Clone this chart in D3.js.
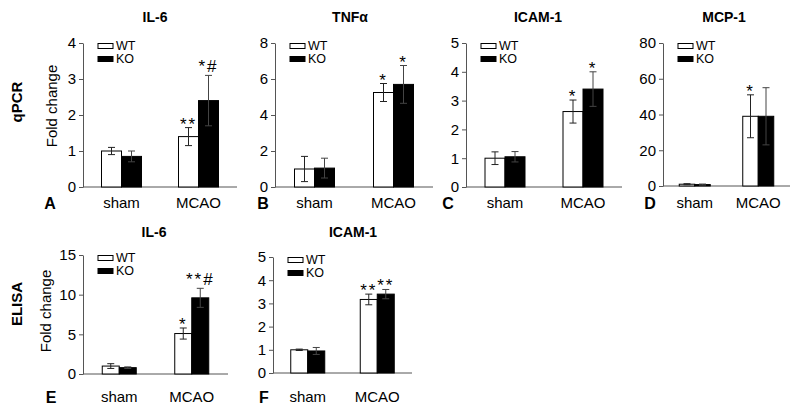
<!DOCTYPE html>
<html><head><meta charset="utf-8">
<script src="https://cdn.jsdelivr.net/npm/d3@7"></script>
<style>
body{margin:0;background:#fff}
text{font-family:"Liberation Sans",Arial,sans-serif;fill:#000}
</style>
</head><body>
<svg id="c" width="800" height="413"></svg>
<script>
// ---------- DATA ----------
const categories = ["sham", "MCAO"];
const series = ["WT", "KO"];
const rowLabels = ["qPCR", "ELISA"];
const yLabel = "Fold change";
const panelLetters = ["A", "B", "C", "D", "E", "F"];
const panelTitles = ["IL-6", "TNFα", "ICAM-1", "MCP-1", "IL-6", "ICAM-1"];

// A: qPCR IL-6
const aWT = [1.0, 1.4],  aWTerr = [0.1, 0.25],  aKO = [0.85, 2.4],  aKOerr = [0.15, 0.7];
const aWTsig = ["", "**"], aKOsig = ["", "*#"];
const aTicks = [0, 1, 2, 3, 4];
// B: qPCR TNFα
const bWT = [1.0, 5.25], bWTerr = [0.7, 0.5],  bKO = [1.05, 5.7], bKOerr = [0.55, 1.05];
const bWTsig = ["", "*"], bKOsig = ["", "*"];
const bTicks = [0, 2, 4, 6, 8];
// C: qPCR ICAM-1
const cWT = [1.0, 2.62], cWTerr = [0.22, 0.4], cKO = [1.05, 3.4], cKOerr = [0.18, 0.6];
const cWTsig = ["", "*"], cKOsig = ["", "*"];
const cTicks = [0, 1, 2, 3, 4, 5];
// D: qPCR MCP-1
const dWT = [1.0, 39],  dWTerr = [0.3, 12],  dKO = [0.8, 39],  dKOerr = [0.3, 16];
const dWTsig = ["", "*"], dKOsig = ["", ""];
const dTicks = [0, 20, 40, 60, 80];
// E: ELISA IL-6
const eWT = [1.0, 5.1], eWTerr = [0.3, 0.7], eKO = [0.8, 9.6], eKOerr = [0.1, 1.2];
const eWTsig = ["", "*"], eKOsig = ["", "**#"];
const eTicks = [0, 5, 10, 15];
// F: ELISA ICAM-1
const fWT = [1.0, 3.17], fWTerr = [0.03, 0.23], fKO = [0.95, 3.4], fKOerr = [0.15, 0.2];
const fWTsig = ["", "**"], fKOsig = ["", "**"];
const fTicks = [0, 1, 2, 3, 4, 5];

// ---------- LAYOUT ----------
const panels = [
  {data:[aWT,aKO], err:[aWTerr,aKOerr], sig:[aWTsig,aKOsig], ticks:aTicks, x0:83,  x1:237, y0:187, y1:43,  bw:20, titleX:155, titleY:22, letterX:50,  labY:208},
  {data:[bWT,bKO], err:[bWTerr,bKOerr], sig:[bWTsig,bKOsig], ticks:bTicks, x0:275, x1:433, y0:187, y1:43,  bw:20, titleX:350, titleY:22, letterX:263, labY:208},
  {data:[cWT,cKO], err:[cWTerr,cKOerr], sig:[cWTsig,cKOsig], ticks:cTicks, x0:466, x1:622, y0:187, y1:43,  bw:20, titleX:538, titleY:22, letterX:448, labY:208},
  {data:[dWT,dKO], err:[dWTerr,dKOerr], sig:[dWTsig,dKOsig], ticks:dTicks, x0:663, x1:790, y0:186, y1:43,  bw:15.5, titleX:724, titleY:22, letterX:650, labY:208},
  {data:[eWT,eKO], err:[eWTerr,eKOerr], sig:[eWTsig,eKOsig], ticks:eTicks, x0:83,  x1:228, y0:374, y1:255, bw:17, titleX:154, titleY:237, letterX:51, labY:402},
  {data:[fWT,fKO], err:[fWTerr,fKOerr], sig:[fWTsig,fKOsig], ticks:fTicks, x0:273, x1:412, y0:373, y1:257, bw:17, titleX:353, titleY:237, letterX:264, labY:402}
];

const svg = d3.select("#c");
const axisColor = "#555";

panels.forEach((p, pi) => {
  const g = svg.append("g");
  const y = d3.scaleLinear().domain([0, d3.max(p.ticks)]).range([p.y0, p.y1]);
  const x = d3.scalePoint().domain(categories).range([p.x0, p.x1]).padding(0.5);
  const xs = d3.scaleBand().domain(series).range([-p.bw, p.bw]);

  // y axis
  const ax = g.append("g").attr("transform", `translate(${p.x0},0)`)
    .call(d3.axisLeft(y).tickValues(p.ticks).tickFormat(d3.format("d"))
      .tickSize(4).tickSizeOuter(0).tickPadding(3));
  ax.select(".domain").attr("stroke", axisColor);
  ax.selectAll(".tick line").attr("stroke", axisColor);
  ax.selectAll(".tick text").attr("font-size", 15)
    .attr("font-family", "Liberation Sans, Arial, sans-serif").attr("fill", "#000");

  // x axis baseline
  g.append("line").attr("x1", p.x0).attr("x2", p.x1).attr("y1", y(0)).attr("y2", y(0))
    .attr("stroke", axisColor);

  // bars
  series.forEach((s, si) => {
    categories.forEach((c, ci) => {
      const v = p.data[si][ci], e = p.err[si][ci];
      const bx = x(c) + xs(s);
      const cx = bx + xs.bandwidth() / 2;
      g.append("rect").attr("x", bx).attr("y", y(v)).attr("width", xs.bandwidth())
        .attr("height", y(0) - y(v))
        .attr("fill", s === "WT" ? "#fff" : "#000").attr("stroke", "#000").attr("stroke-width", 1);
      const col = s === "WT" ? "#222" : "#444";
      g.append("line").attr("x1", cx).attr("x2", cx).attr("y1", y(v - e)).attr("y2", y(v + e)).attr("stroke", col);
      [v - e, v + e].forEach(val => {
        g.append("line").attr("x1", cx - 3.5).attr("x2", cx + 3.5).attr("y1", y(val)).attr("y2", y(val)).attr("stroke", col);
      });
      const sg = p.sig[si][ci];
      if (sg) {
        const off = sg.includes("#") ? -3 : 2;
        g.append("text").attr("x", cx).attr("y", y(v + e) + off).attr("text-anchor", "middle")
          .attr("font-size", 17).attr("letter-spacing", 2).text(sg);
      }
    });
  });

  // category labels
  categories.forEach(c => {
    g.append("text").attr("x", x(c)).attr("y", p.labY).attr("text-anchor", "middle")
      .attr("font-size", 15).text(c);
  });

  // title
  g.append("text").attr("x", p.titleX).attr("y", p.titleY).attr("text-anchor", "middle")
    .attr("font-size", 14).attr("font-weight", "bold").text(panelTitles[pi]);

  // panel letter
  g.append("text").attr("x", p.letterX).attr("y", p.labY + 1).attr("text-anchor", "middle")
    .attr("font-size", 16).attr("font-weight", "bold").text(panelLetters[pi]);

  // legend
  series.forEach((s, si) => {
    const ly = p.y1 + 3 + si * 13;
    g.append("rect").attr("x", p.x0 + 15).attr("y", ly - 2.5).attr("width", 15).attr("height", 5)
      .attr("fill", s === "WT" ? "#fff" : "#000").attr("stroke", "#000");
    g.append("text").attr("x", p.x0 + 33).attr("y", ly).attr("dy", "0.35em")
      .attr("font-size", 12.5).text(s);
  });
});

// row labels
[[17, 102], [17, 304]].forEach((pos, i) => {
  svg.append("text").attr("transform", `translate(${pos[0]},${pos[1]}) rotate(-90)`)
    .attr("text-anchor", "middle").attr("dy", "0.35em")
    .attr("font-size", 15).attr("font-weight", "bold").text(rowLabels[i]);
});
// y axis titles
[[52, 106], [46, 311]].forEach(pos => {
  svg.append("text").attr("transform", `translate(${pos[0]},${pos[1]}) rotate(-90)`)
    .attr("text-anchor", "middle").attr("dy", "0.35em")
    .attr("font-size", 15).text(yLabel);
});
</script>
</body></html>
